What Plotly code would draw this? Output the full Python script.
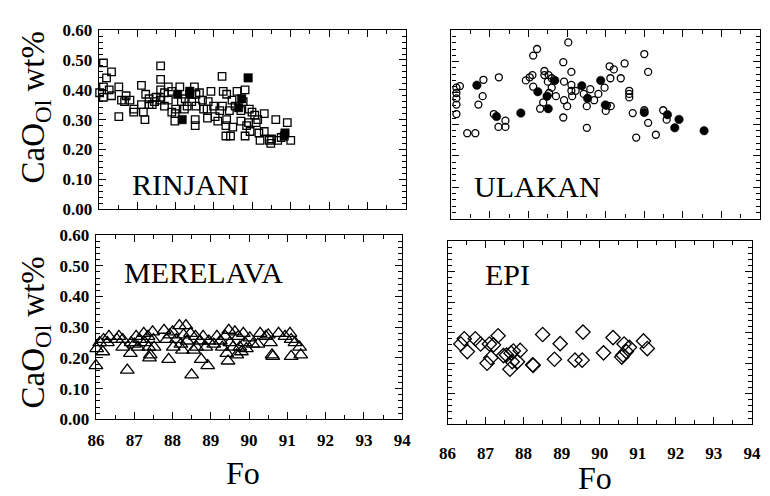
import plotly.graph_objects as go

W, H = 770, 496
FONT = "Liberation Serif"

# ---------------- DATA ----------------
# RINJANI (squares)
rin_open_fo = [86.12, 86.02, 86.12, 86.12, 86.20, 86.33, 86.27, 86.33, 86.52, 86.52, 86.59, 86.67, 86.71,
               86.81, 86.91, 86.91, 87.11, 87.11, 87.16, 87.20, 87.22, 87.31, 87.31, 87.39, 87.49, 87.60,
               87.61, 87.61, 87.61, 87.61, 87.71, 87.71, 87.81, 87.81, 87.90, 87.90, 87.98, 87.99, 88.00,
               88.11, 88.15, 88.23, 88.30, 88.42, 88.49, 88.53, 88.53, 88.51, 88.51, 88.62, 88.70, 88.73,
               88.82, 88.83, 88.92, 88.99, 89.03, 89.10, 89.21, 89.24, 89.22, 89.33, 89.33, 89.31, 89.31,
               89.43, 89.40, 89.47, 89.49, 89.55, 89.60, 89.70, 89.70, 89.76, 89.81, 89.81, 89.90, 89.94,
               89.92, 89.99, 90.06, 90.10, 90.14, 90.17, 90.20, 90.31, 90.31, 90.44, 90.48, 90.50, 90.61,
               90.66, 90.75, 90.91, 91.00, 87.45, 88.25, 88.85, 89.15, 89.85]
rin_open_cao = [0.49, 0.39, 0.41, 0.375, 0.44, 0.46, 0.40, 0.38, 0.41, 0.31, 0.365, 0.36, 0.38,
                0.365, 0.335, 0.325, 0.415, 0.35, 0.325, 0.30, 0.385, 0.37, 0.35, 0.35, 0.375, 0.365,
                0.48, 0.435, 0.40, 0.375, 0.345, 0.39, 0.41, 0.365, 0.395, 0.325, 0.295, 0.32, 0.335,
                0.41, 0.36, 0.335, 0.345, 0.36, 0.41, 0.385, 0.345, 0.30, 0.28, 0.39, 0.365, 0.335,
                0.335, 0.305, 0.395, 0.345, 0.31, 0.295, 0.445, 0.395, 0.345, 0.385, 0.30, 0.28, 0.245,
                0.245, 0.33, 0.365, 0.275, 0.345, 0.395, 0.295, 0.33, 0.36, 0.245, 0.40, 0.29, 0.26,
                0.335, 0.325, 0.315, 0.29, 0.30, 0.255, 0.23, 0.26, 0.32, 0.23, 0.22, 0.235, 0.30,
                0.23, 0.24, 0.29, 0.23, 0.36, 0.37, 0.36, 0.33, 0.28]
rin_fill_fo = [88.05, 88.17, 88.37, 88.37, 89.64, 89.72, 89.89, 90.83, 90.85]
rin_fill_cao = [0.385, 0.30, 0.395, 0.385, 0.34, 0.37, 0.44, 0.245, 0.255]

# ULAKAN (circles)
ula_open_fo = [86.13, 86.13, 86.13, 86.13, 86.13, 86.22, 86.41, 86.62, 86.70, 86.81, 86.83, 87.10, 87.22,
               87.23, 87.40, 87.40, 87.93, 88.03, 88.10, 88.12, 88.12, 88.22, 88.30, 88.38, 88.41, 88.41,
               88.50, 88.52, 88.53, 88.60, 88.60, 88.71, 88.90, 88.90, 88.92, 88.92, 89.00, 89.03, 89.11,
               89.11, 89.13, 89.11, 89.22, 89.43, 89.51, 89.51, 89.60, 89.70, 89.81, 89.97, 90.00, 90.03,
               90.10, 90.12, 90.13, 90.21, 90.39, 90.49, 90.61, 90.61, 90.61, 90.70, 90.79, 91.00, 91.00,
               91.10, 91.10, 91.30, 91.49, 91.58]
ula_open_cao = [0.417, 0.40, 0.383, 0.363, 0.333, 0.422, 0.272, 0.272, 0.363, 0.39, 0.442, 0.333, 0.292,
                0.45, 0.312, 0.292, 0.44, 0.45, 0.457, 0.42, 0.519, 0.54, 0.35, 0.37, 0.47, 0.457,
                0.436, 0.457, 0.40, 0.417, 0.447, 0.39, 0.322, 0.498, 0.436, 0.377, 0.358, 0.561, 0.467,
                0.426, 0.39, 0.407, 0.407, 0.397, 0.289, 0.358, 0.412, 0.377, 0.397, 0.417, 0.343, 0.36,
                0.485, 0.447, 0.358, 0.475, 0.447, 0.494, 0.407, 0.397, 0.386, 0.336, 0.258, 0.524, 0.345,
                0.467, 0.305, 0.267, 0.345, 0.315]
ula_fill_fo = [86.66, 87.17, 87.80, 88.24, 88.48, 88.51, 88.68, 89.38, 89.53, 89.87, 89.99, 91.00, 91.60,
               91.79, 91.90, 92.55]
ula_fill_cao = [0.425, 0.325, 0.336, 0.404, 0.39, 0.35, 0.44, 0.423, 0.383, 0.44, 0.362, 0.338, 0.331,
                0.289, 0.316, 0.28]

# MERELAVA (triangles)
mer_fo = [86.00, 86.02, 86.10, 86.18, 86.20, 86.30, 86.34, 86.55, 86.60, 86.70, 86.70, 86.82, 86.90, 86.92,
          87.00, 87.05, 87.10, 87.14, 87.25, 87.28, 87.36, 87.38, 87.40, 87.42, 87.48, 87.50, 87.52, 87.78,
          87.85, 87.90, 87.93, 88.00, 88.02, 88.10, 88.18, 88.22, 88.26, 88.29, 88.35, 88.38, 88.47, 88.50,
          88.55, 88.60, 88.63, 88.72, 88.75, 88.80, 88.87, 88.92, 88.95, 89.08, 89.16, 89.25, 89.30, 89.38,
          89.42, 89.45, 89.47, 89.50, 89.58, 89.63, 89.68, 89.72, 89.76, 89.80, 89.85, 89.89, 89.93, 90.02,
          90.10, 90.23, 90.29, 90.44, 90.50, 90.56, 90.60, 90.62, 90.77, 90.94, 91.07, 91.10, 91.10, 91.20,
          91.32, 91.35]
mer_cao = [0.175, 0.23, 0.25, 0.22, 0.26, 0.25, 0.27, 0.26, 0.27, 0.26, 0.235, 0.16, 0.215, 0.25,
           0.245, 0.27, 0.235, 0.26, 0.28, 0.25, 0.27, 0.235, 0.20, 0.21, 0.285, 0.26, 0.235, 0.29,
           0.26, 0.195, 0.275, 0.285, 0.235, 0.26, 0.305, 0.245, 0.225, 0.275, 0.305, 0.255, 0.28, 0.145,
           0.225, 0.27, 0.235, 0.255, 0.195, 0.27, 0.235, 0.175, 0.255, 0.245, 0.27, 0.255, 0.235, 0.27,
           0.215, 0.19, 0.29, 0.25, 0.235, 0.285, 0.21, 0.27, 0.235, 0.22, 0.28, 0.25, 0.23, 0.265,
           0.245, 0.245, 0.28, 0.27, 0.275, 0.25, 0.21, 0.205, 0.28, 0.27, 0.28, 0.26, 0.205, 0.25,
           0.235, 0.21]

# EPI (diamonds)
epi_fo = [86.35, 86.44, 86.52, 86.73, 86.87, 87.04, 87.10, 87.14, 87.21, 87.33, 87.47, 87.55, 87.64, 87.67,
          87.70, 87.73, 87.84, 87.91, 88.24, 88.25, 88.50, 88.81, 88.96, 89.35, 89.54, 89.56, 90.10, 90.35,
          90.58, 90.64, 90.61, 90.70, 90.78, 91.15, 91.25]
epi_cao = [0.263, 0.28, 0.238, 0.28, 0.263, 0.20, 0.263, 0.218, 0.26, 0.29, 0.225, 0.227, 0.18, 0.233,
           0.205, 0.24, 0.205, 0.242, 0.195, 0.193, 0.294, 0.213, 0.264, 0.21, 0.21, 0.302, 0.234, 0.284,
           0.22, 0.263, 0.227, 0.238, 0.252, 0.273, 0.248]

panel_names = ["RINJANI", "ULAKAN", "MERELAVA", "EPI"]
x_ticks = [86, 87, 88, 89, 90, 91, 92, 93, 94]
y_ticks = [0.0, 0.1, 0.2, 0.3, 0.4, 0.5, 0.6]
y_title = "CaO<sub>Ol</sub> wt%"
x_title = "Fo"

# ---------------- FIGURE ----------------
fig = go.Figure()

def add(xs, ys, symbol, size, idx, filled=False):
    ax = "" if idx == 1 else str(idx)
    fig.add_trace(go.Scatter(
        x=xs, y=ys, mode="markers", xaxis="x" + ax, yaxis="y" + ax, showlegend=False,
        marker=dict(symbol=symbol, size=size, color="black",
                    line=dict(color="black", width=1.3 if not filled else 0.5)),
        cliponaxis=False))

add(rin_open_fo, rin_open_cao, "square-open", 7.5, 1)
add(rin_fill_fo, rin_fill_cao, "square", 8.5, 1, True)
add(ula_open_fo, ula_open_cao, "circle-open", 7, 2)
add(ula_fill_fo, ula_fill_cao, "circle", 8.5, 2, True)
add(mer_fo, mer_cao, "triangle-up-open", 12, 3)
add(epi_fo, epi_cao, "diamond-open", 11, 4)

# panel boxes in pixels: (left, right, top, bottom)
boxes = [(92, 406.4, 22, 208), (453, 769, 22, 218), (89, 402.6, 235, 426.7), (449, 760.7, 241.5, 431.7)]
x_standoff = [0, 0, 5, 13]

tickfont = dict(family=FONT, size=17, color="black", weight="bold")
for i, (l, r, t, b) in enumerate(boxes, start=1):
    ax = "" if i == 1 else str(i)
    xd = [l / W, r / W]
    yd = [1 - b / H, 1 - t / H]
    fig.update_layout(**{
        "xaxis" + ax: dict(domain=xd, anchor="y" + ax, range=[86, 94], tickvals=x_ticks,
                           ticks="inside", ticklen=7, tickwidth=1.2, tickcolor="black",
                           showline=True, linecolor="black", linewidth=1.4, mirror="allticks",
                           showgrid=False, zeroline=False, showticklabels=(i >= 3),
                           tickfont=tickfont, ticklabelstandoff=x_standoff[i - 1],
                           minor=dict(dtick=0.5, tick0=86, ticks="inside", ticklen=4, tickwidth=1,
                                      tickcolor="black", showgrid=False)),
        "yaxis" + ax: dict(domain=yd, anchor="x" + ax, range=[0, 0.6], tickvals=y_ticks,
                           tickformat=".2f",
                           ticks="inside", ticklen=7, tickwidth=1.2, tickcolor="black",
                           showline=True, linecolor="black", linewidth=1.4, mirror="allticks",
                           showgrid=False, zeroline=False, showticklabels=(i in (1, 3)),
                           tickfont=tickfont, ticklabelstandoff=2,
                           minor=dict(dtick=0.02, tick0=0, ticks="inside", ticklen=4, tickwidth=1,
                                      tickcolor="black", showgrid=False)),
    })

annotations = []
# panel labels
label_pos = [(186, 183), (541, 185), (199, 274), (510, 276)]
for name, (px, py) in zip(panel_names, label_pos):
    annotations.append(dict(text=name, x=px / W, y=1 - py / H, xref="paper", yref="paper",
                            showarrow=False, xanchor="center", yanchor="middle",
                            font=dict(family=FONT, size=30, color="black")))
# y titles
for py in (102, 336):
    annotations.append(dict(text=y_title, x=27 / W, y=1 - py / H, xref="paper", yref="paper",
                            showarrow=False, textangle=-90, xanchor="center", yanchor="middle",
                            font=dict(family=FONT, size=33, color="black")))
# x titles
for px, py in ((240, 482), (600, 488)):
    annotations.append(dict(text=x_title, x=px / W, y=1 - py / H, xref="paper", yref="paper",
                            showarrow=False, xanchor="center", yanchor="middle",
                            font=dict(family=FONT, size=32, color="black")))

fig.update_layout(width=W, height=H, margin=dict(l=0, r=0, t=0, b=0),
                  paper_bgcolor="white", plot_bgcolor="white", annotations=annotations,
                  font=dict(family=FONT, color="black"))

fig.write_html("out.html")
